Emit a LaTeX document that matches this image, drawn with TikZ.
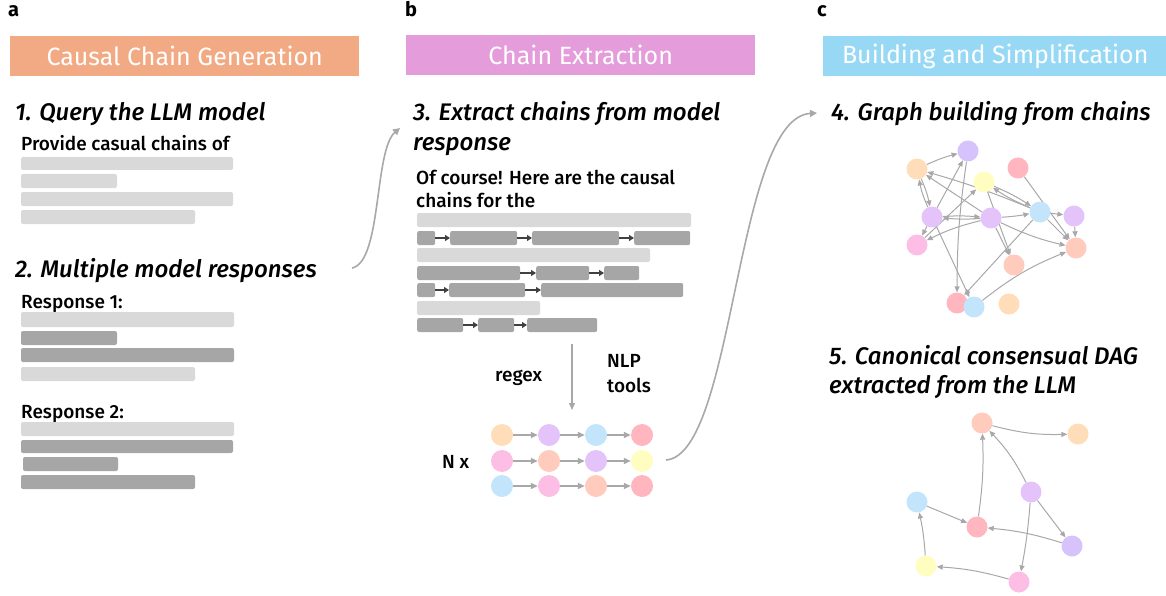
\documentclass[tikz,border=0pt]{standalone}
\usepackage{fontspec}
\IfFontExistsTF{Fira Sans Medium}{\setmainfont{Fira Sans Medium}[BoldFont={Fira Sans Bold}]}{\setmainfont{Fira Sans}}
\newfontfamily\hfont{Fira Sans}
\IfFontExistsTF{Fira Sans Medium Italic}{\newfontfamily\tfont{Fira Sans Medium Italic}}{\IfFontExistsTF{Fira Sans SemiBold Italic}{\newfontfamily\tfont{Fira Sans SemiBold Italic}}{\newcommand\tfont{\bfseries\itshape}}}
\usetikzlibrary{arrows.meta}
\pgfdeclarelayer{bg}
\pgfsetlayers{bg,main}
\definecolor{hdrA}{HTML}{F2AA84}
\definecolor{hdrB}{HTML}{E49CDA}
\definecolor{hdrC}{HTML}{97D9F5}
\definecolor{lbar}{HTML}{D9D9D9}
\definecolor{dbar}{HTML}{A6A6A6}
\definecolor{carrow}{HTML}{404040}
\definecolor{garrow}{HTML}{A8A8A8}
\definecolor{cpeach}{HTML}{FFDDB8}
\definecolor{clav}{HTML}{E4C3FB}
\definecolor{cviolet}{HTML}{D6C3FC}
\definecolor{cblue}{HTML}{C2E5FC}
\definecolor{cred}{HTML}{FFB6BF}
\definecolor{cpink}{HTML}{FDBEE6}
\definecolor{csalmon}{HTML}{FFCBBC}
\definecolor{cyellow}{HTML}{FFFDBF}
\tikzset{
  hdr/.style={anchor=north west, inner sep=0pt, minimum height=40pt, text=white, font=\hfont\fontsize{25}{30}\selectfont},
  ttl/.style={anchor=base west, inner sep=0pt, font=\tfont\fontsize{24}{28}\selectfont},
  body/.style={anchor=base west, inner sep=0pt, font=\fontsize{19}{23}\selectfont},
  lbl/.style={anchor=base west, inner sep=0pt, font=\bfseries\fontsize{20}{24}\selectfont},
  cbox/.style={fill=dbar, rounded corners=2pt, inner sep=0pt, minimum height=14pt, anchor=west},
  cedge/.style={draw=carrow, line width=1.4pt, -{Triangle[length=5pt,width=6pt]}},
  gn/.style={circle, inner sep=0pt, minimum size=21pt},
  rn/.style={circle, inner sep=0pt, minimum size=22pt},
  gedge/.style={draw=garrow, line width=1pt, -{Triangle[length=6pt,width=5pt]}},
  redge/.style={draw=garrow, line width=1.3pt, -{Triangle[length=7pt,width=6pt]}},
  bigcurve/.style={draw=garrow, line width=1.6pt, -{Triangle[length=7pt,width=7pt]}},
}
\begin{document}
\begin{tikzpicture}[x=1pt,y=-1pt]
\useasboundingbox (0,0) rectangle (1166,596);
% panel labels
\node[lbl] (la) at (8,17) {a};
\node[lbl] (lb) at (405,17) {b};
\node[lbl] (lc) at (817,17) {c};
% headers
\node[hdr, fill=hdrA, minimum width=349pt] (ha) at (10,36) {Causal Chain Generation};
\node[hdr, fill=hdrB, minimum width=349pt] (hb) at (406,35) {Chain Extraction};
\node[hdr, fill=hdrC, minimum width=344pt] (hc) at (823,36) {Building and Simplification};
% panel a
\node[ttl] (t1) at (15,121) {1. Query the LLM model};
\node[body] (q1) at (21,151) {Provide casual chains of};
\fill[lbar, rounded corners=2pt] (21,157) rectangle (233,170);
\fill[lbar, rounded corners=2pt] (21,174) rectangle (117,188);
\fill[lbar, rounded corners=2pt] (21,192) rectangle (233,206);
\fill[lbar, rounded corners=2pt] (21,210) rectangle (195,224);
\node[ttl] (t2) at (15,277) {2. Multiple model responses};
\node[body] (r1) at (21,308) {Response 1:};
\fill[lbar, rounded corners=2pt] (21,312) rectangle (234,327);
\fill[dbar, rounded corners=2pt] (21,331) rectangle (117,345);
\fill[dbar, rounded corners=2pt] (21,348) rectangle (234,362);
\fill[lbar, rounded corners=2pt] (21,367) rectangle (195,381);
\node[body] (r2) at (21,418) {Response 2:};
\fill[lbar, rounded corners=2pt] (21,422) rectangle (234,436);
\fill[dbar, rounded corners=2pt] (21,440) rectangle (233,453);
\fill[dbar, rounded corners=2pt] (23,457) rectangle (118,471);
\fill[dbar, rounded corners=2pt] (21,475) rectangle (195,489);
% curve a -> b
\coordinate (c1s) at (352,268);
\coordinate (c1e) at (400,128);
\draw[bigcurve] (c1s) .. controls (382,262) and (374,150) .. (c1e);
% panel b
\node[ttl] (t3a) at (413,121) {3. Extract chains from model};
\node[ttl] (t3b) at (413,151) {response};
\node[body] (o1) at (416,184) {Of course! Here are the causal};
\node[body] (o2) at (416,207) {chains for the};
\fill[lbar, rounded corners=2pt] (417,213) rectangle (691,227);
\fill[lbar, rounded corners=2pt] (417,248) rectangle (650,262);
\fill[lbar, rounded corners=2pt] (417,301) rectangle (540,315);
% chain rows
\node[cbox, minimum width=18pt] (a1) at (417,238) {};
\node[cbox, minimum width=67pt] (a2) at (450,238) {};
\node[cbox, minimum width=87pt] (a3) at (532,238) {};
\node[cbox, minimum width=56pt] (a4) at (634,238) {};
\node[cbox, minimum width=103pt] (b1) at (417,273) {};
\node[cbox, minimum width=53pt] (b2) at (536,273) {};
\node[cbox, minimum width=35pt] (b3) at (604,273) {};
\node[cbox, minimum width=18pt] (d1) at (417,290) {};
\node[cbox, minimum width=76pt] (d2) at (449,290) {};
\node[cbox, minimum width=142pt] (d3) at (541,290) {};
\node[cbox, minimum width=46pt] (e1) at (417,325) {};
\node[cbox, minimum width=36pt] (e2) at (478,325) {};
\node[cbox, minimum width=70pt] (e3) at (527,325) {};
\draw[cedge] (a1.east) -- (a2.west);
\draw[cedge] (a2.east) -- (a3.west);
\draw[cedge] (a3.east) -- (a4.west);
\draw[cedge] (b1.east) -- (b2.west);
\draw[cedge] (b2.east) -- (b3.west);
\draw[cedge] (d1.east) -- (d2.west);
\draw[cedge] (d2.east) -- (d3.west);
\draw[cedge] (e1.east) -- (e2.west);
\draw[cedge] (e2.east) -- (e3.west);
% down arrow
\coordinate (vs) at (572,344);
\coordinate (ve) at (572,410);
\draw[draw=garrow, line width=1.4pt, -{Triangle[length=7pt,width=6pt]}] (vs) -- (ve);
\node[body] (rx) at (495,381) {regex};
\node[body] (nlp1) at (607,367) {NLP};
\node[body] (nlp2) at (607,392) {tools};
\node[body] (nx) at (442,468) {N x};
% chain grid
\node[rn, fill=cpeach]  (g11) at (502,435) {};
\node[rn, fill=clav]    (g12) at (549,435) {};
\node[rn, fill=cblue]   (g13) at (596,435) {};
\node[rn, fill=cred]    (g14) at (642,435) {};
\node[rn, fill=cpink]   (g21) at (502,461) {};
\node[rn, fill=csalmon] (g22) at (549,461) {};
\node[rn, fill=clav]    (g23) at (596,461) {};
\node[rn, fill=cyellow] (g24) at (642,461) {};
\node[rn, fill=cblue]   (g31) at (502,486) {};
\node[rn, fill=cpink]   (g32) at (549,486) {};
\node[rn, fill=csalmon] (g33) at (596,486) {};
\node[rn, fill=cred]    (g34) at (642,486) {};
\foreach \r in {1,2,3}{
  \draw[redge] (g\r1) -- (g\r2);
  \draw[redge] (g\r2) -- (g\r3);
  \draw[redge] (g\r3) -- (g\r4);
}
% curve b -> c
\coordinate (c2s) at (666,460);
\coordinate (c2e) at (817,113);
\draw[bigcurve] (c2s) .. controls (735,455) and (735,118) .. (c2e);
% panel c
\node[ttl] (t4) at (831,121) {4. Graph building from chains};
\node[ttl] (t5a) at (829,364) {5. Canonical consensual DAG};
\node[ttl] (t5b) at (829,393) {extracted from the LLM};
% graph 1
\node[gn, fill=cpeach]  (A) at (917,169) {};
\node[gn, fill=cviolet] (B) at (968,151) {};
\node[gn, fill=cred]    (C) at (1018,168) {};
\node[gn, fill=cyellow] (D) at (984,182) {};
\node[gn, fill=clav]    (E) at (932,217) {};
\node[gn, fill=clav]    (F) at (991,218) {};
\node[gn, fill=cblue]   (G) at (1040,212) {};
\node[gn, fill=clav]    (H) at (1074,216) {};
\node[gn, fill=cpink]   (I) at (917,245) {};
\node[gn, fill=csalmon] (J) at (1076,248) {};
\node[gn, fill=csalmon] (K) at (1014,265) {};
\node[gn, fill=cred]    (L) at (957,303) {};
\node[gn, fill=cblue]   (M) at (974,307) {};
\node[gn, fill=cpeach]  (N) at (1009,304) {};
% graph 2
\node[gn, fill=csalmon] (P) at (982,423) {};
\node[gn, fill=cpeach]  (Q) at (1078,434) {};
\node[gn, fill=cblue]   (R) at (917,502) {};
\node[gn, fill=cred]    (S) at (977,527) {};
\node[gn, fill=clav]    (T) at (1031,492) {};
\node[gn, fill=cviolet] (U) at (1072,546) {};
\node[gn, fill=cyellow] (V) at (926,566) {};
\node[gn, fill=cpink]   (W) at (1019,582) {};
\begin{pgfonlayer}{bg}
\draw[gedge] (A) to[bend left=5] (B);
\draw[gedge] (A) to[bend left=6] (E);
\draw[gedge] (E) to[bend left=6] (A);
\draw[gedge] (E) -- (B);
\draw[gedge] (B) to[bend right=4] (L);
\draw[gedge] (F) -- (A);
\draw[gedge] (G) to[bend right=3] (A);
\draw[gedge] (E) to[bend left=4] (F);
\draw[gedge] (F) to[bend left=4] (E);
\draw[gedge] (F) to[bend right=6] (I);
\draw[gedge] (E) -- (I);
\draw[gedge] (I) -- (D);
\draw[gedge] (D) to[bend left=5] (G);
\draw[gedge] (G) to[bend left=5] (D);
\draw[gedge] (D) -- (K);
\draw[gedge] (F) -- (K);
\draw[gedge] (F) to[bend right=3] (G);
\draw[gedge] (G) -- (H);
\draw[gedge] (H) -- (J);
\draw[gedge] (C) -- (J);
\draw[gedge] (G) -- (J);
\draw[gedge] (F) to[bend right=6] (J);
\draw[gedge] (M) to[bend left=8] (J);
\draw[gedge] (G) -- (L);
\draw[gedge] (E) -- (M);
% graph 2 edges
\draw[gedge] (P) to[bend right=8] (Q);
\draw[gedge] (T) to[bend right=8] (P);
\draw[gedge] (S) to[bend right=5] (P);
\draw[gedge] (R) -- (S);
\draw[gedge] (T) -- (U);
\draw[gedge] (U) to[bend right=6] (S);
\draw[gedge] (T) to[bend left=3] (W);
\draw[gedge] (W) to[bend right=6] (V);
\draw[gedge] (V) to[bend right=4] (R);
\end{pgfonlayer}
\end{tikzpicture}
\end{document}
